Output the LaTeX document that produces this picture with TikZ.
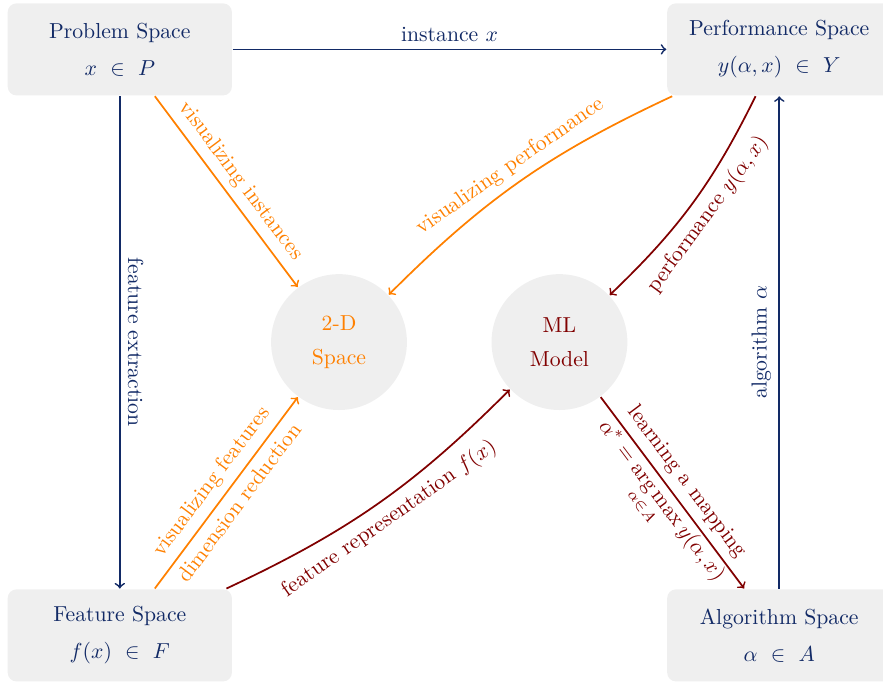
\documentclass[tikz,border=0pt]{standalone}
\usepackage{amsmath}
\definecolor{navy}{RGB}{18,42,102}
\definecolor{vizorange}{RGB}{255,128,0}
\definecolor{mldark}{RGB}{128,0,0}
\definecolor{boxgray}{RGB}{239,239,239}
\tikzset{
    spacebox/.style = {fill = boxgray, rounded corners = 4pt, minimum width = 3.63cm, minimum height = 1.49cm, align = center, text = navy},
    bubble/.style = {circle, fill = boxgray, minimum size = 2.2cm, align = center}
}
\begin{document}
\begin{tikzpicture}[line width = 0.8pt, >= to]
    \useasboundingbox (0,0) rectangle (14.30,11.11);
    \node[spacebox] (problem) at (1.94,10.31) {Problem Space\\[5pt] $x \ \in \ P$};
    \node[spacebox] (performance) at (12.62,10.31) {Performance Space\\[5pt] $y(\alpha,x) \ \in \ Y$};
    \node[spacebox] (feature) at (1.94,0.82) {Feature Space\\[5pt] $f(x) \ \in \ F$};
    \node[spacebox] (algorithm) at (12.62,0.82) {Algorithm Space\\[5pt] $\alpha \ \in \ A$};
    \node[bubble, text = vizorange] (twod) at (5.49,5.57) {2-D\\[4pt] Space};
    \node[bubble, text = mldark] (ml) at (9.06,5.57) {ML\\[4pt] Model};
    \begin{scope}[color = navy]
        \draw[->] (problem) -- node[above] {instance $x$} (performance);
        \draw[->] (problem) -- node[above, sloped] {feature extraction} (feature);
        \draw[->] (algorithm) -- node[above, sloped] {algorithm $\alpha$} (performance);
    \end{scope}
    \begin{scope}[color = vizorange]
        \draw[->] (problem) -- node[above, sloped] {visualizing instances} (twod);
        \draw[->] (performance) to[bend right = 10] node[above, sloped] {visualizing performance} (twod);
        \draw[->] (feature) -- node[above, sloped] {visualizing features} node[below, sloped] {dimension reduction} (twod);
    \end{scope}
    \begin{scope}[color = mldark]
        \draw[->] (feature) to[bend right = 10] node[below, sloped] {feature representation $f(x)$} (ml);
        \draw[->] (performance) to[bend left = 10] node[below, sloped] {performance $y(\alpha,x)$} (ml);
        \draw[->] (ml) -- node[above, sloped] {learning a mapping} node[below, sloped, inner sep = 1pt] {$\alpha^* = \operatorname*{arg\,max}\limits_{\alpha \in A} y(\alpha,x)$} (algorithm);
    \end{scope}
\end{tikzpicture}
\end{document}
